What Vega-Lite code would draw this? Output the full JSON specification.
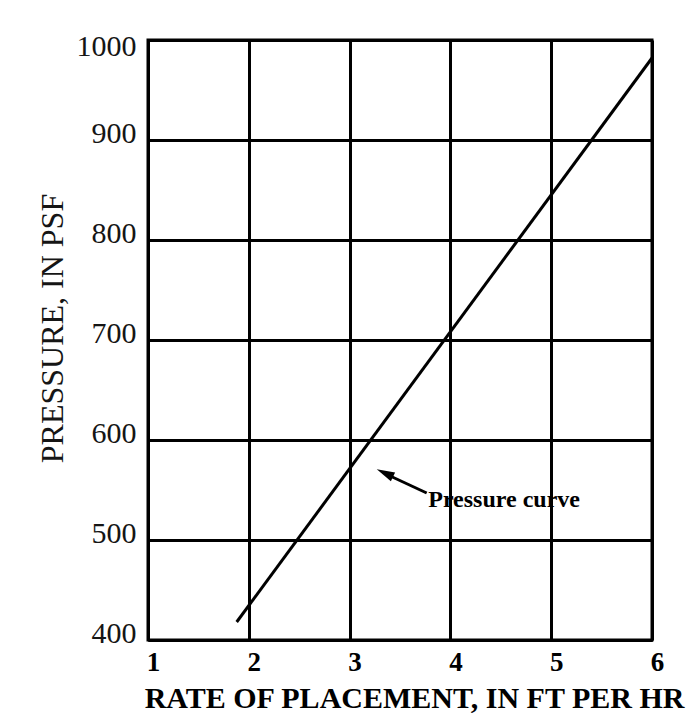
{
  "$schema": "https://vega.github.io/schema/vega-lite/v6.json",
  "width": 504,
  "height": 600,
  "autosize": "none",
  "padding": {"left": 148, "top": 40, "right": 42, "bottom": 74},
  "background": "white",
  "config": {"view": {"stroke": "black", "strokeWidth": 3}},
  "encoding": {
    "x": {
      "field": "x", "type": "quantitative",
      "scale": {"domain": [1, 6], "nice": false, "zero": false},
      "axis": {
        "values": [1, 2, 3, 4, 5, 6], "format": "d",
        "grid": true, "gridColor": "black", "gridWidth": 3, "gridOpacity": 1,
        "domainColor": "black", "domainWidth": 3, "ticks": false,
        "labelFlush": false,
        "labelFont": "Liberation Serif", "labelFontWeight": "bold", "labelFontSize": 27,
        "labelColor": "black", "labelPadding": 9, "labelOffset": 5,
        "title": "RATE OF PLACEMENT,  IN FT PER HR",
        "titleFont": "Liberation Serif", "titleFontWeight": "bold", "titleFontSize": 30,
        "titleColor": "black", "titleBaseline": "alphabetic", "titleY": 67, "titleX": 266
      }
    },
    "y": {
      "field": "y", "type": "quantitative",
      "scale": {"domain": [400, 1000], "nice": false, "zero": false},
      "axis": {
        "values": [400, 500, 600, 700, 800, 900, 1000], "format": "d",
        "grid": true, "gridColor": "black", "gridWidth": 3, "gridOpacity": 1,
        "domainColor": "black", "domainWidth": 3, "ticks": false,
        "labelFlush": false,
        "labelFont": "Liberation Serif", "labelFontSize": 30, "labelColor": "#151515",
        "labelAlign": "right", "labelBaseline": "alphabetic", "labelPadding": 12,
        "labelOffset": {"condition": {"test": "datum.value == 1000", "value": 15}, "value": 2},
        "title": "PRESSURE,  IN PSF",
        "titleFont": "Liberation Serif", "titleFontWeight": "normal", "titleFontSize": 32,
        "titleColor": "#151515", "titleAngle": 270, "titleAlign": "center",
        "titleBaseline": "alphabetic", "titleX": -86, "titleY": 288
      }
    }
  },
  "layer": [
    {
      "data": {"values": [{"x": 1.88, "y": 418}, {"x": 6.0, "y": 982}]},
      "mark": {"type": "line", "color": "black", "strokeWidth": 3, "clip": false}
    },
    {
      "data": {"values": [{"x": 3.765, "y": 547, "x2": 3.36, "y2": 566}]},
      "mark": {"type": "rule", "color": "black", "strokeWidth": 3},
      "encoding": {"x2": {"field": "x2"}, "y2": {"field": "y2"}}
    },
    {
      "data": {"values": [{"x": 3.35, "y": 567}]},
      "mark": {"type": "point", "shape": "M0,-1L0.55,1L-0.55,1Z", "filled": true, "color": "black", "opacity": 1, "size": 324, "angle": 295.5}
    },
    {
      "data": {"values": [{"x": 3.78, "y": 540, "label": "Pressure curve"}]},
      "mark": {"type": "text", "align": "left", "baseline": "middle", "font": "Liberation Serif", "fontWeight": "bold", "fontSize": 24, "color": "black"},
      "encoding": {"text": {"field": "label"}}
    }
  ]
}
